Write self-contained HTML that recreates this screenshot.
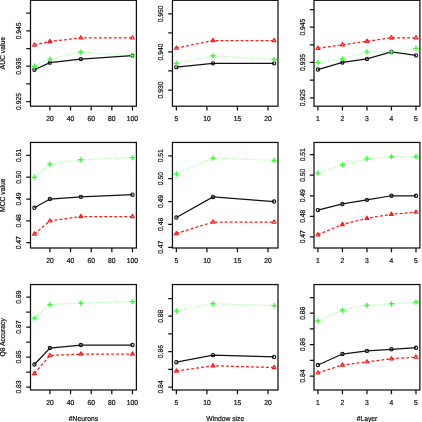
<!DOCTYPE html>
<html><head><meta charset="utf-8"><style>
html,body{margin:0;padding:0;background:#fff;}
body{width:422px;height:422px;overflow:hidden;}
svg{display:block;will-change:transform;}
text{font-family:"Liberation Sans",sans-serif;font-size:6.75px;fill:#111;stroke:#111;stroke-width:0.2px;text-rendering:geometricPrecision;}
</style></head><body>
<svg width="422" height="422" viewBox="0 0 422 422">
<rect width="422" height="422" fill="#fff"/>
<rect x="30.50" y="0.30" width="105.90" height="105.90" fill="none" stroke="#111" stroke-width="1.25"/>
<path d="M49.90 106.20V110.40M70.55 106.20V110.40M91.19 106.20V110.40M111.83 106.20V110.40M132.48 106.20V110.40M30.50 101.50H26.30M30.50 83.84H26.30M30.50 66.18H26.30M30.50 48.52H26.30M30.50 30.86H26.30M30.50 13.20H26.30" stroke="#111" stroke-width="1.25" fill="none"/>
<text transform="translate(49.90 121.00) scale(1 1.07)" text-anchor="middle">20</text>
<text transform="translate(70.55 121.00) scale(1 1.07)" text-anchor="middle">40</text>
<text transform="translate(91.19 121.00) scale(1 1.07)" text-anchor="middle">60</text>
<text transform="translate(111.83 121.00) scale(1 1.07)" text-anchor="middle">80</text>
<text transform="translate(132.48 121.00) scale(1 1.07)" text-anchor="middle">100</text>
<text transform="translate(21.00 101.50) rotate(-90) scale(1 1.07)" text-anchor="middle">0.925</text>
<text transform="translate(21.00 66.18) rotate(-90) scale(1 1.07)" text-anchor="middle">0.935</text>
<text transform="translate(21.00 30.86) rotate(-90) scale(1 1.07)" text-anchor="middle">0.945</text>
<polyline points="34.42,66.18 49.90,59.12 80.87,52.05 132.48,55.58" fill="none" stroke="#33ff33" stroke-width="1.25" stroke-dasharray="1 1.55" stroke-opacity="0.5"/>
<polyline points="34.42,44.99 49.90,41.46 80.87,37.92 132.48,37.92" fill="none" stroke="#ff1a1a" stroke-width="1.25" stroke-dasharray="2.9 2.1"/>
<polyline points="34.42,69.71 49.90,62.65 80.87,59.12 132.48,55.58" fill="none" stroke="#111" stroke-width="1.25"/>
<circle cx="34.42" cy="69.71" r="1.65" fill="none" stroke="#111" stroke-width="1.1"/>
<circle cx="49.90" cy="62.65" r="1.65" fill="none" stroke="#111" stroke-width="1.1"/>
<circle cx="80.87" cy="59.12" r="1.65" fill="none" stroke="#111" stroke-width="1.1"/>
<circle cx="132.48" cy="55.58" r="1.65" fill="none" stroke="#111" stroke-width="1.1"/>
<path d="M34.42 42.79L36.33 46.09L32.52 46.09Z" fill="none" stroke="#ff1a1a" stroke-width="1.15" stroke-linejoin="round"/>
<path d="M49.90 39.26L51.81 42.56L48.00 42.56Z" fill="none" stroke="#ff1a1a" stroke-width="1.15" stroke-linejoin="round"/>
<path d="M80.87 35.72L82.78 39.02L78.96 39.02Z" fill="none" stroke="#ff1a1a" stroke-width="1.15" stroke-linejoin="round"/>
<path d="M132.48 35.72L134.38 39.02L130.57 39.02Z" fill="none" stroke="#ff1a1a" stroke-width="1.15" stroke-linejoin="round"/>
<path d="M31.82 66.18H37.02M34.42 63.58V68.78" stroke="#33ff33" stroke-width="1.4" fill="none"/>
<path d="M47.30 59.12H52.50M49.90 56.52V61.72" stroke="#33ff33" stroke-width="1.4" fill="none"/>
<path d="M78.27 52.05H83.47M80.87 49.45V54.65" stroke="#33ff33" stroke-width="1.4" fill="none"/>
<path d="M129.88 55.58H135.08M132.48 52.98V58.18" stroke="#33ff33" stroke-width="1.4" fill="none"/>
<rect x="172.45" y="0.30" width="105.55" height="105.90" fill="none" stroke="#111" stroke-width="1.25"/>
<path d="M176.36 106.20V110.40M206.90 106.20V110.40M237.44 106.20V110.40M267.98 106.20V110.40M172.45 90.00H168.25M172.45 70.97H168.25M172.45 51.95H168.25M172.45 32.93H168.25M172.45 13.90H168.25" stroke="#111" stroke-width="1.25" fill="none"/>
<text transform="translate(176.36 121.00) scale(1 1.07)" text-anchor="middle">5</text>
<text transform="translate(206.90 121.00) scale(1 1.07)" text-anchor="middle">10</text>
<text transform="translate(237.44 121.00) scale(1 1.07)" text-anchor="middle">15</text>
<text transform="translate(267.98 121.00) scale(1 1.07)" text-anchor="middle">20</text>
<text transform="translate(162.95 90.00) rotate(-90) scale(1 1.07)" text-anchor="middle">0.930</text>
<text transform="translate(162.95 51.95) rotate(-90) scale(1 1.07)" text-anchor="middle">0.940</text>
<text transform="translate(162.95 13.90) rotate(-90) scale(1 1.07)" text-anchor="middle">0.950</text>
<polyline points="176.36,63.36 213.01,55.76 274.09,59.56" fill="none" stroke="#33ff33" stroke-width="1.25" stroke-dasharray="1 1.55" stroke-opacity="0.5"/>
<polyline points="176.36,48.15 213.01,40.54 274.09,40.54" fill="none" stroke="#ff1a1a" stroke-width="1.25" stroke-dasharray="2.9 2.1"/>
<polyline points="176.36,67.17 213.01,63.36 274.09,63.36" fill="none" stroke="#111" stroke-width="1.25"/>
<circle cx="176.36" cy="67.17" r="1.65" fill="none" stroke="#111" stroke-width="1.1"/>
<circle cx="213.01" cy="63.36" r="1.65" fill="none" stroke="#111" stroke-width="1.1"/>
<circle cx="274.09" cy="63.36" r="1.65" fill="none" stroke="#111" stroke-width="1.1"/>
<path d="M176.36 45.95L178.27 49.25L174.45 49.25Z" fill="none" stroke="#ff1a1a" stroke-width="1.15" stroke-linejoin="round"/>
<path d="M213.01 38.34L214.91 41.64L211.10 41.64Z" fill="none" stroke="#ff1a1a" stroke-width="1.15" stroke-linejoin="round"/>
<path d="M274.09 38.34L276.00 41.64L272.18 41.64Z" fill="none" stroke="#ff1a1a" stroke-width="1.15" stroke-linejoin="round"/>
<path d="M173.76 63.36H178.96M176.36 60.76V65.96" stroke="#33ff33" stroke-width="1.4" fill="none"/>
<path d="M210.41 55.76H215.61M213.01 53.16V58.36" stroke="#33ff33" stroke-width="1.4" fill="none"/>
<path d="M271.49 59.56H276.69M274.09 56.96V62.16" stroke="#33ff33" stroke-width="1.4" fill="none"/>
<rect x="314.00" y="0.30" width="105.90" height="105.90" fill="none" stroke="#111" stroke-width="1.25"/>
<path d="M317.92 106.20V110.40M342.44 106.20V110.40M366.95 106.20V110.40M391.46 106.20V110.40M415.98 106.20V110.40M314.00 97.80H309.80M314.00 80.14H309.80M314.00 62.48H309.80M314.00 44.82H309.80M314.00 27.16H309.80M314.00 9.50H309.80" stroke="#111" stroke-width="1.25" fill="none"/>
<text transform="translate(317.92 121.00) scale(1 1.07)" text-anchor="middle">1</text>
<text transform="translate(342.44 121.00) scale(1 1.07)" text-anchor="middle">2</text>
<text transform="translate(366.95 121.00) scale(1 1.07)" text-anchor="middle">3</text>
<text transform="translate(391.46 121.00) scale(1 1.07)" text-anchor="middle">4</text>
<text transform="translate(415.98 121.00) scale(1 1.07)" text-anchor="middle">5</text>
<text transform="translate(304.50 97.80) rotate(-90) scale(1 1.07)" text-anchor="middle">0.925</text>
<text transform="translate(304.50 62.48) rotate(-90) scale(1 1.07)" text-anchor="middle">0.935</text>
<text transform="translate(304.50 27.16) rotate(-90) scale(1 1.07)" text-anchor="middle">0.945</text>
<polyline points="317.92,62.48 342.44,58.95 366.95,51.88 391.46,51.88 415.98,48.35" fill="none" stroke="#33ff33" stroke-width="1.25" stroke-dasharray="1 1.55" stroke-opacity="0.5"/>
<polyline points="317.92,48.35 342.44,44.82 366.95,41.29 391.46,37.76 415.98,37.76" fill="none" stroke="#ff1a1a" stroke-width="1.25" stroke-dasharray="2.9 2.1"/>
<polyline points="317.92,69.54 342.44,62.48 366.95,58.95 391.46,51.88 415.98,55.42" fill="none" stroke="#111" stroke-width="1.25"/>
<circle cx="317.92" cy="69.54" r="1.65" fill="none" stroke="#111" stroke-width="1.1"/>
<circle cx="342.44" cy="62.48" r="1.65" fill="none" stroke="#111" stroke-width="1.1"/>
<circle cx="366.95" cy="58.95" r="1.65" fill="none" stroke="#111" stroke-width="1.1"/>
<circle cx="391.46" cy="51.88" r="1.65" fill="none" stroke="#111" stroke-width="1.1"/>
<circle cx="415.98" cy="55.42" r="1.65" fill="none" stroke="#111" stroke-width="1.1"/>
<path d="M317.92 46.15L319.83 49.45L316.02 49.45Z" fill="none" stroke="#ff1a1a" stroke-width="1.15" stroke-linejoin="round"/>
<path d="M342.44 42.62L344.34 45.92L340.53 45.92Z" fill="none" stroke="#ff1a1a" stroke-width="1.15" stroke-linejoin="round"/>
<path d="M366.95 39.09L368.86 42.39L365.04 42.39Z" fill="none" stroke="#ff1a1a" stroke-width="1.15" stroke-linejoin="round"/>
<path d="M391.46 35.56L393.37 38.86L389.56 38.86Z" fill="none" stroke="#ff1a1a" stroke-width="1.15" stroke-linejoin="round"/>
<path d="M415.98 35.56L417.88 38.86L414.07 38.86Z" fill="none" stroke="#ff1a1a" stroke-width="1.15" stroke-linejoin="round"/>
<path d="M315.32 62.48H320.52M317.92 59.88V65.08" stroke="#33ff33" stroke-width="1.4" fill="none"/>
<path d="M339.84 58.95H345.04M342.44 56.35V61.55" stroke="#33ff33" stroke-width="1.4" fill="none"/>
<path d="M364.35 51.88H369.55M366.95 49.28V54.48" stroke="#33ff33" stroke-width="1.4" fill="none"/>
<path d="M388.86 51.88H394.06M391.46 49.28V54.48" stroke="#33ff33" stroke-width="1.4" fill="none"/>
<path d="M413.38 48.35H418.58M415.98 45.75V50.95" stroke="#33ff33" stroke-width="1.4" fill="none"/>
<rect x="30.50" y="142.45" width="105.90" height="105.55" fill="none" stroke="#111" stroke-width="1.25"/>
<path d="M49.90 248.00V252.20M70.55 248.00V252.20M91.19 248.00V252.20M111.83 248.00V252.20M132.48 248.00V252.20M30.50 242.70H26.30M30.50 220.88H26.30M30.50 199.05H26.30M30.50 177.22H26.30M30.50 155.40H26.30" stroke="#111" stroke-width="1.25" fill="none"/>
<text transform="translate(49.90 262.80) scale(1 1.07)" text-anchor="middle">20</text>
<text transform="translate(70.55 262.80) scale(1 1.07)" text-anchor="middle">40</text>
<text transform="translate(91.19 262.80) scale(1 1.07)" text-anchor="middle">60</text>
<text transform="translate(111.83 262.80) scale(1 1.07)" text-anchor="middle">80</text>
<text transform="translate(132.48 262.80) scale(1 1.07)" text-anchor="middle">100</text>
<text transform="translate(21.00 242.70) rotate(-90) scale(1 1.07)" text-anchor="middle">0.47</text>
<text transform="translate(21.00 220.88) rotate(-90) scale(1 1.07)" text-anchor="middle">0.48</text>
<text transform="translate(21.00 199.05) rotate(-90) scale(1 1.07)" text-anchor="middle">0.49</text>
<text transform="translate(21.00 177.22) rotate(-90) scale(1 1.07)" text-anchor="middle">0.50</text>
<text transform="translate(21.00 155.40) rotate(-90) scale(1 1.07)" text-anchor="middle">0.51</text>
<polyline points="34.42,177.22 49.90,164.13 80.87,159.77 132.48,157.58" fill="none" stroke="#33ff33" stroke-width="1.25" stroke-dasharray="1 1.55" stroke-opacity="0.5"/>
<polyline points="34.42,233.97 49.90,220.88 80.87,216.51 132.48,216.51" fill="none" stroke="#ff1a1a" stroke-width="1.25" stroke-dasharray="2.9 2.1"/>
<polyline points="34.42,207.78 49.90,199.05 80.87,196.87 132.48,194.69" fill="none" stroke="#111" stroke-width="1.25"/>
<circle cx="34.42" cy="207.78" r="1.65" fill="none" stroke="#111" stroke-width="1.1"/>
<circle cx="49.90" cy="199.05" r="1.65" fill="none" stroke="#111" stroke-width="1.1"/>
<circle cx="80.87" cy="196.87" r="1.65" fill="none" stroke="#111" stroke-width="1.1"/>
<circle cx="132.48" cy="194.69" r="1.65" fill="none" stroke="#111" stroke-width="1.1"/>
<path d="M34.42 231.77L36.33 235.07L32.52 235.07Z" fill="none" stroke="#ff1a1a" stroke-width="1.15" stroke-linejoin="round"/>
<path d="M49.90 218.68L51.81 221.97L48.00 221.97Z" fill="none" stroke="#ff1a1a" stroke-width="1.15" stroke-linejoin="round"/>
<path d="M80.87 214.31L82.78 217.61L78.96 217.61Z" fill="none" stroke="#ff1a1a" stroke-width="1.15" stroke-linejoin="round"/>
<path d="M132.48 214.31L134.38 217.61L130.57 217.61Z" fill="none" stroke="#ff1a1a" stroke-width="1.15" stroke-linejoin="round"/>
<path d="M31.82 177.22H37.02M34.42 174.62V179.82" stroke="#33ff33" stroke-width="1.4" fill="none"/>
<path d="M47.30 164.13H52.50M49.90 161.53V166.73" stroke="#33ff33" stroke-width="1.4" fill="none"/>
<path d="M78.27 159.77H83.47M80.87 157.17V162.37" stroke="#33ff33" stroke-width="1.4" fill="none"/>
<path d="M129.88 157.58H135.08M132.48 154.98V160.18" stroke="#33ff33" stroke-width="1.4" fill="none"/>
<rect x="172.45" y="142.45" width="105.55" height="105.55" fill="none" stroke="#111" stroke-width="1.25"/>
<path d="M176.36 248.00V252.20M206.90 248.00V252.20M237.44 248.00V252.20M267.98 248.00V252.20M172.45 247.25H168.25M172.45 224.39H168.25M172.45 201.53H168.25M172.45 178.66H168.25M172.45 155.80H168.25" stroke="#111" stroke-width="1.25" fill="none"/>
<text transform="translate(176.36 262.80) scale(1 1.07)" text-anchor="middle">5</text>
<text transform="translate(206.90 262.80) scale(1 1.07)" text-anchor="middle">10</text>
<text transform="translate(237.44 262.80) scale(1 1.07)" text-anchor="middle">15</text>
<text transform="translate(267.98 262.80) scale(1 1.07)" text-anchor="middle">20</text>
<text transform="translate(162.95 247.25) rotate(-90) scale(1 1.07)" text-anchor="middle">0.47</text>
<text transform="translate(162.95 224.39) rotate(-90) scale(1 1.07)" text-anchor="middle">0.48</text>
<text transform="translate(162.95 201.53) rotate(-90) scale(1 1.07)" text-anchor="middle">0.49</text>
<text transform="translate(162.95 178.66) rotate(-90) scale(1 1.07)" text-anchor="middle">0.50</text>
<text transform="translate(162.95 155.80) rotate(-90) scale(1 1.07)" text-anchor="middle">0.51</text>
<polyline points="176.36,174.09 213.01,158.09 274.09,160.37" fill="none" stroke="#33ff33" stroke-width="1.25" stroke-dasharray="1 1.55" stroke-opacity="0.5"/>
<polyline points="176.36,233.53 213.01,222.10 274.09,222.10" fill="none" stroke="#ff1a1a" stroke-width="1.25" stroke-dasharray="2.9 2.1"/>
<polyline points="176.36,217.53 213.01,196.95 274.09,201.53" fill="none" stroke="#111" stroke-width="1.25"/>
<circle cx="176.36" cy="217.53" r="1.65" fill="none" stroke="#111" stroke-width="1.1"/>
<circle cx="213.01" cy="196.95" r="1.65" fill="none" stroke="#111" stroke-width="1.1"/>
<circle cx="274.09" cy="201.53" r="1.65" fill="none" stroke="#111" stroke-width="1.1"/>
<path d="M176.36 231.33L178.27 234.63L174.45 234.63Z" fill="none" stroke="#ff1a1a" stroke-width="1.15" stroke-linejoin="round"/>
<path d="M213.01 219.90L214.91 223.20L211.10 223.20Z" fill="none" stroke="#ff1a1a" stroke-width="1.15" stroke-linejoin="round"/>
<path d="M274.09 219.90L276.00 223.20L272.18 223.20Z" fill="none" stroke="#ff1a1a" stroke-width="1.15" stroke-linejoin="round"/>
<path d="M173.76 174.09H178.96M176.36 171.49V176.69" stroke="#33ff33" stroke-width="1.4" fill="none"/>
<path d="M210.41 158.09H215.61M213.01 155.49V160.69" stroke="#33ff33" stroke-width="1.4" fill="none"/>
<path d="M271.49 160.37H276.69M274.09 157.77V162.97" stroke="#33ff33" stroke-width="1.4" fill="none"/>
<rect x="314.00" y="142.45" width="105.90" height="105.55" fill="none" stroke="#111" stroke-width="1.25"/>
<path d="M317.92 248.00V252.20M342.44 248.00V252.20M366.95 248.00V252.20M391.46 248.00V252.20M415.98 248.00V252.20M314.00 236.80H309.80M314.00 216.28H309.80M314.00 195.75H309.80M314.00 175.22H309.80M314.00 154.70H309.80" stroke="#111" stroke-width="1.25" fill="none"/>
<text transform="translate(317.92 262.80) scale(1 1.07)" text-anchor="middle">1</text>
<text transform="translate(342.44 262.80) scale(1 1.07)" text-anchor="middle">2</text>
<text transform="translate(366.95 262.80) scale(1 1.07)" text-anchor="middle">3</text>
<text transform="translate(391.46 262.80) scale(1 1.07)" text-anchor="middle">4</text>
<text transform="translate(415.98 262.80) scale(1 1.07)" text-anchor="middle">5</text>
<text transform="translate(304.50 236.80) rotate(-90) scale(1 1.07)" text-anchor="middle">0.47</text>
<text transform="translate(304.50 216.28) rotate(-90) scale(1 1.07)" text-anchor="middle">0.48</text>
<text transform="translate(304.50 195.75) rotate(-90) scale(1 1.07)" text-anchor="middle">0.49</text>
<text transform="translate(304.50 175.22) rotate(-90) scale(1 1.07)" text-anchor="middle">0.50</text>
<text transform="translate(304.50 154.70) rotate(-90) scale(1 1.07)" text-anchor="middle">0.51</text>
<polyline points="317.92,173.17 342.44,164.96 366.95,158.80 391.46,156.75 415.98,156.75" fill="none" stroke="#33ff33" stroke-width="1.25" stroke-dasharray="1 1.55" stroke-opacity="0.5"/>
<polyline points="317.92,234.75 342.44,224.49 366.95,218.33 391.46,214.22 415.98,212.17" fill="none" stroke="#ff1a1a" stroke-width="1.25" stroke-dasharray="2.9 2.1"/>
<polyline points="317.92,210.12 342.44,203.96 366.95,199.85 391.46,195.75 415.98,195.75" fill="none" stroke="#111" stroke-width="1.25"/>
<circle cx="317.92" cy="210.12" r="1.65" fill="none" stroke="#111" stroke-width="1.1"/>
<circle cx="342.44" cy="203.96" r="1.65" fill="none" stroke="#111" stroke-width="1.1"/>
<circle cx="366.95" cy="199.85" r="1.65" fill="none" stroke="#111" stroke-width="1.1"/>
<circle cx="391.46" cy="195.75" r="1.65" fill="none" stroke="#111" stroke-width="1.1"/>
<circle cx="415.98" cy="195.75" r="1.65" fill="none" stroke="#111" stroke-width="1.1"/>
<path d="M317.92 232.55L319.83 235.85L316.02 235.85Z" fill="none" stroke="#ff1a1a" stroke-width="1.15" stroke-linejoin="round"/>
<path d="M342.44 222.29L344.34 225.59L340.53 225.59Z" fill="none" stroke="#ff1a1a" stroke-width="1.15" stroke-linejoin="round"/>
<path d="M366.95 216.13L368.86 219.43L365.04 219.43Z" fill="none" stroke="#ff1a1a" stroke-width="1.15" stroke-linejoin="round"/>
<path d="M391.46 212.02L393.37 215.32L389.56 215.32Z" fill="none" stroke="#ff1a1a" stroke-width="1.15" stroke-linejoin="round"/>
<path d="M415.98 209.97L417.88 213.27L414.07 213.27Z" fill="none" stroke="#ff1a1a" stroke-width="1.15" stroke-linejoin="round"/>
<path d="M315.32 173.17H320.52M317.92 170.57V175.77" stroke="#33ff33" stroke-width="1.4" fill="none"/>
<path d="M339.84 164.96H345.04M342.44 162.36V167.56" stroke="#33ff33" stroke-width="1.4" fill="none"/>
<path d="M364.35 158.80H369.55M366.95 156.20V161.40" stroke="#33ff33" stroke-width="1.4" fill="none"/>
<path d="M388.86 156.75H394.06M391.46 154.15V159.35" stroke="#33ff33" stroke-width="1.4" fill="none"/>
<path d="M413.38 156.75H418.58M415.98 154.15V159.35" stroke="#33ff33" stroke-width="1.4" fill="none"/>
<rect x="30.50" y="284.55" width="105.90" height="105.45" fill="none" stroke="#111" stroke-width="1.25"/>
<path d="M49.90 390.00V394.20M70.55 390.00V394.20M91.19 390.00V394.20M111.83 390.00V394.20M132.48 390.00V394.20M30.50 387.00H26.30M30.50 372.02H26.30M30.50 357.03H26.30M30.50 342.05H26.30M30.50 327.07H26.30M30.50 312.08H26.30M30.50 297.10H26.30" stroke="#111" stroke-width="1.25" fill="none"/>
<text transform="translate(49.90 404.80) scale(1 1.07)" text-anchor="middle">20</text>
<text transform="translate(70.55 404.80) scale(1 1.07)" text-anchor="middle">40</text>
<text transform="translate(91.19 404.80) scale(1 1.07)" text-anchor="middle">60</text>
<text transform="translate(111.83 404.80) scale(1 1.07)" text-anchor="middle">80</text>
<text transform="translate(132.48 404.80) scale(1 1.07)" text-anchor="middle">100</text>
<text transform="translate(21.00 387.00) rotate(-90) scale(1 1.07)" text-anchor="middle">0.83</text>
<text transform="translate(21.00 357.03) rotate(-90) scale(1 1.07)" text-anchor="middle">0.85</text>
<text transform="translate(21.00 327.07) rotate(-90) scale(1 1.07)" text-anchor="middle">0.87</text>
<text transform="translate(21.00 297.10) rotate(-90) scale(1 1.07)" text-anchor="middle">0.89</text>
<polyline points="34.42,318.08 49.90,304.59 80.87,303.09 132.48,301.60" fill="none" stroke="#33ff33" stroke-width="1.25" stroke-dasharray="1 1.55" stroke-opacity="0.5"/>
<polyline points="34.42,373.51 49.90,355.54 80.87,354.04 132.48,354.04" fill="none" stroke="#ff1a1a" stroke-width="1.25" stroke-dasharray="2.9 2.1"/>
<polyline points="34.42,364.52 49.90,348.04 80.87,345.05 132.48,345.05" fill="none" stroke="#111" stroke-width="1.25"/>
<circle cx="34.42" cy="364.52" r="1.65" fill="none" stroke="#111" stroke-width="1.1"/>
<circle cx="49.90" cy="348.04" r="1.65" fill="none" stroke="#111" stroke-width="1.1"/>
<circle cx="80.87" cy="345.05" r="1.65" fill="none" stroke="#111" stroke-width="1.1"/>
<circle cx="132.48" cy="345.05" r="1.65" fill="none" stroke="#111" stroke-width="1.1"/>
<path d="M34.42 371.31L36.33 374.62L32.52 374.62Z" fill="none" stroke="#ff1a1a" stroke-width="1.15" stroke-linejoin="round"/>
<path d="M49.90 353.34L51.81 356.64L48.00 356.64Z" fill="none" stroke="#ff1a1a" stroke-width="1.15" stroke-linejoin="round"/>
<path d="M80.87 351.84L82.78 355.14L78.96 355.14Z" fill="none" stroke="#ff1a1a" stroke-width="1.15" stroke-linejoin="round"/>
<path d="M132.48 351.84L134.38 355.14L130.57 355.14Z" fill="none" stroke="#ff1a1a" stroke-width="1.15" stroke-linejoin="round"/>
<path d="M31.82 318.08H37.02M34.42 315.48V320.68" stroke="#33ff33" stroke-width="1.4" fill="none"/>
<path d="M47.30 304.59H52.50M49.90 301.99V307.19" stroke="#33ff33" stroke-width="1.4" fill="none"/>
<path d="M78.27 303.09H83.47M80.87 300.49V305.69" stroke="#33ff33" stroke-width="1.4" fill="none"/>
<path d="M129.88 301.60H135.08M132.48 299.00V304.20" stroke="#33ff33" stroke-width="1.4" fill="none"/>
<rect x="172.45" y="284.55" width="105.55" height="105.45" fill="none" stroke="#111" stroke-width="1.25"/>
<path d="M176.36 390.00V394.20M206.90 390.00V394.20M237.44 390.00V394.20M267.98 390.00V394.20M172.45 387.00H168.25M172.45 369.30H168.25M172.45 351.60H168.25M172.45 333.90H168.25M172.45 316.20H168.25M172.45 298.50H168.25" stroke="#111" stroke-width="1.25" fill="none"/>
<text transform="translate(176.36 404.80) scale(1 1.07)" text-anchor="middle">5</text>
<text transform="translate(206.90 404.80) scale(1 1.07)" text-anchor="middle">10</text>
<text transform="translate(237.44 404.80) scale(1 1.07)" text-anchor="middle">15</text>
<text transform="translate(267.98 404.80) scale(1 1.07)" text-anchor="middle">20</text>
<text transform="translate(162.95 387.00) rotate(-90) scale(1 1.07)" text-anchor="middle">0.84</text>
<text transform="translate(162.95 351.60) rotate(-90) scale(1 1.07)" text-anchor="middle">0.86</text>
<text transform="translate(162.95 316.20) rotate(-90) scale(1 1.07)" text-anchor="middle">0.88</text>
<polyline points="176.36,310.89 213.01,303.81 274.09,305.58" fill="none" stroke="#33ff33" stroke-width="1.25" stroke-dasharray="1 1.55" stroke-opacity="0.5"/>
<polyline points="176.36,371.07 213.01,365.76 274.09,367.53" fill="none" stroke="#ff1a1a" stroke-width="1.25" stroke-dasharray="2.9 2.1"/>
<polyline points="176.36,362.22 213.01,355.14 274.09,356.91" fill="none" stroke="#111" stroke-width="1.25"/>
<circle cx="176.36" cy="362.22" r="1.65" fill="none" stroke="#111" stroke-width="1.1"/>
<circle cx="213.01" cy="355.14" r="1.65" fill="none" stroke="#111" stroke-width="1.1"/>
<circle cx="274.09" cy="356.91" r="1.65" fill="none" stroke="#111" stroke-width="1.1"/>
<path d="M176.36 368.87L178.27 372.17L174.45 372.17Z" fill="none" stroke="#ff1a1a" stroke-width="1.15" stroke-linejoin="round"/>
<path d="M213.01 363.56L214.91 366.86L211.10 366.86Z" fill="none" stroke="#ff1a1a" stroke-width="1.15" stroke-linejoin="round"/>
<path d="M274.09 365.33L276.00 368.63L272.18 368.63Z" fill="none" stroke="#ff1a1a" stroke-width="1.15" stroke-linejoin="round"/>
<path d="M173.76 310.89H178.96M176.36 308.29V313.49" stroke="#33ff33" stroke-width="1.4" fill="none"/>
<path d="M210.41 303.81H215.61M213.01 301.21V306.41" stroke="#33ff33" stroke-width="1.4" fill="none"/>
<path d="M271.49 305.58H276.69M274.09 302.98V308.18" stroke="#33ff33" stroke-width="1.4" fill="none"/>
<rect x="314.00" y="284.55" width="105.90" height="105.45" fill="none" stroke="#111" stroke-width="1.25"/>
<path d="M317.92 390.00V394.20M342.44 390.00V394.20M366.95 390.00V394.20M391.46 390.00V394.20M415.98 390.00V394.20M314.00 376.00H309.80M314.00 360.30H309.80M314.00 344.60H309.80M314.00 328.90H309.80M314.00 313.20H309.80M314.00 297.50H309.80" stroke="#111" stroke-width="1.25" fill="none"/>
<text transform="translate(317.92 404.80) scale(1 1.07)" text-anchor="middle">1</text>
<text transform="translate(342.44 404.80) scale(1 1.07)" text-anchor="middle">2</text>
<text transform="translate(366.95 404.80) scale(1 1.07)" text-anchor="middle">3</text>
<text transform="translate(391.46 404.80) scale(1 1.07)" text-anchor="middle">4</text>
<text transform="translate(415.98 404.80) scale(1 1.07)" text-anchor="middle">5</text>
<text transform="translate(304.50 376.00) rotate(-90) scale(1 1.07)" text-anchor="middle">0.84</text>
<text transform="translate(304.50 344.60) rotate(-90) scale(1 1.07)" text-anchor="middle">0.86</text>
<text transform="translate(304.50 313.20) rotate(-90) scale(1 1.07)" text-anchor="middle">0.88</text>
<polyline points="317.92,321.05 342.44,310.06 366.95,305.35 391.46,303.78 415.98,302.21" fill="none" stroke="#33ff33" stroke-width="1.25" stroke-dasharray="1 1.55" stroke-opacity="0.5"/>
<polyline points="317.92,372.86 342.44,365.01 366.95,361.87 391.46,358.73 415.98,357.16" fill="none" stroke="#ff1a1a" stroke-width="1.25" stroke-dasharray="2.9 2.1"/>
<polyline points="317.92,365.01 342.44,354.02 366.95,350.88 391.46,349.31 415.98,347.74" fill="none" stroke="#111" stroke-width="1.25"/>
<circle cx="317.92" cy="365.01" r="1.65" fill="none" stroke="#111" stroke-width="1.1"/>
<circle cx="342.44" cy="354.02" r="1.65" fill="none" stroke="#111" stroke-width="1.1"/>
<circle cx="366.95" cy="350.88" r="1.65" fill="none" stroke="#111" stroke-width="1.1"/>
<circle cx="391.46" cy="349.31" r="1.65" fill="none" stroke="#111" stroke-width="1.1"/>
<circle cx="415.98" cy="347.74" r="1.65" fill="none" stroke="#111" stroke-width="1.1"/>
<path d="M317.92 370.66L319.83 373.96L316.02 373.96Z" fill="none" stroke="#ff1a1a" stroke-width="1.15" stroke-linejoin="round"/>
<path d="M342.44 362.81L344.34 366.11L340.53 366.11Z" fill="none" stroke="#ff1a1a" stroke-width="1.15" stroke-linejoin="round"/>
<path d="M366.95 359.67L368.86 362.97L365.04 362.97Z" fill="none" stroke="#ff1a1a" stroke-width="1.15" stroke-linejoin="round"/>
<path d="M391.46 356.53L393.37 359.83L389.56 359.83Z" fill="none" stroke="#ff1a1a" stroke-width="1.15" stroke-linejoin="round"/>
<path d="M415.98 354.96L417.88 358.26L414.07 358.26Z" fill="none" stroke="#ff1a1a" stroke-width="1.15" stroke-linejoin="round"/>
<path d="M315.32 321.05H320.52M317.92 318.45V323.65" stroke="#33ff33" stroke-width="1.4" fill="none"/>
<path d="M339.84 310.06H345.04M342.44 307.46V312.66" stroke="#33ff33" stroke-width="1.4" fill="none"/>
<path d="M364.35 305.35H369.55M366.95 302.75V307.95" stroke="#33ff33" stroke-width="1.4" fill="none"/>
<path d="M388.86 303.78H394.06M391.46 301.18V306.38" stroke="#33ff33" stroke-width="1.4" fill="none"/>
<path d="M413.38 302.21H418.58M415.98 299.61V304.81" stroke="#33ff33" stroke-width="1.4" fill="none"/>
<text transform="translate(5.1 53.25) rotate(-90) scale(1 1.07)" text-anchor="middle">AUC value</text>
<text transform="translate(5.1 195.22) rotate(-90) scale(1 1.07)" text-anchor="middle">MCC value</text>
<text transform="translate(5.1 337.27) rotate(-90) scale(1 1.07)" text-anchor="middle">Q8 Accuracy</text>
<text transform="translate(83.45 420.80) scale(1 1.07)" text-anchor="middle">#Neurons</text>
<text transform="translate(225.22 420.80) scale(1 1.07)" text-anchor="middle">Window size</text>
<text transform="translate(366.95 420.80) scale(1 1.07)" text-anchor="middle">#Layer</text>
</svg>
</body></html>
